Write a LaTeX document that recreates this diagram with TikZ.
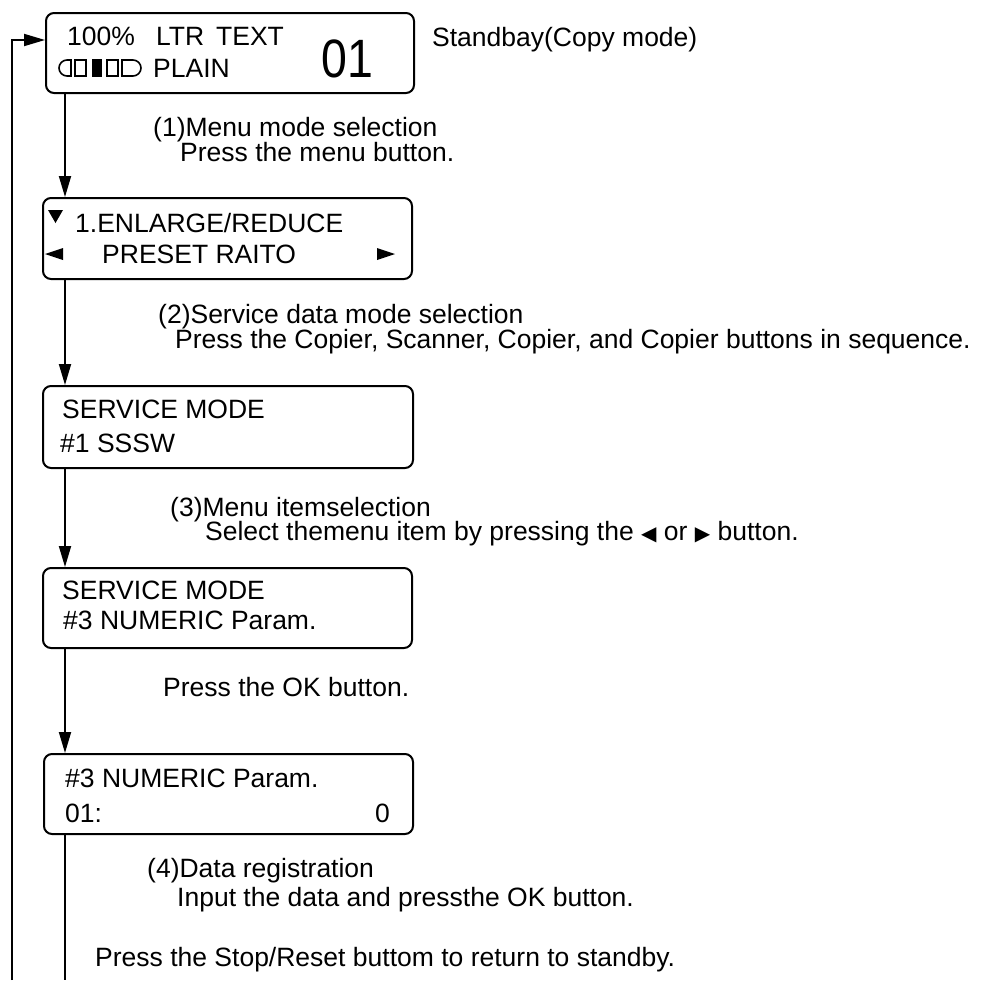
\documentclass[tikz,border=0pt]{standalone}
\usepackage{fontspec}
\setmainfont{Liberation Sans}
\newfontfamily\symfont{DejaVu Sans}
\usetikzlibrary{arrows.meta}
\begin{document}
\begin{tikzpicture}[x=1pt,y=-1pt,
  box/.style={draw, line width=2pt, rounded corners=8pt, inner sep=0pt, anchor=north west},
  lbl/.style={anchor=base west, inner sep=0pt, font=\fontsize{26.5}{30}\selectfont},
  big/.style={anchor=base west, inner sep=0pt, font=\fontsize{54}{60}\selectfont},
  conn/.style={line width=1.8pt},
  arr/.style={conn, -{Triangle[length=21pt,width=12pt]}},
  icon/.style={line width=1.6pt}]
\useasboundingbox (0,0) rectangle (998,980);

% boxes
\node[box, minimum width=368pt, minimum height=80pt] (b1) at (45,12) {};
\node[box, minimum width=369pt, minimum height=81pt] (b2) at (42,197) {};
\node[box, minimum width=370pt, minimum height=82pt] (b3) at (42,385) {};
\node[box, minimum width=369pt, minimum height=80pt] (b4) at (42,567) {};
\node[box, minimum width=369pt, minimum height=80pt] (b5) at (43,753) {};

% box 1 contents
\node[lbl] (t1a) at (67,45) {100\%};
\node[lbl] (t1b) at (156,45) {LTR};
\node[lbl] (t1c) at (216,45) {TEXT};
\node[lbl] (t1d) at (153,77) {PLAIN};
\node[big] (t1e) at (321,77) {\scalebox{0.86}[1]{01}};
\draw[icon] (71,60) -- (67,60) arc[start angle=270, end angle=90, radius=8] -- (71,76) -- cycle;
\draw[icon] (75,60) rectangle (86,76);
\fill (92,59.2) rectangle (102,76.8);
\draw[icon] (107,60) rectangle (118,76);
\draw[icon] (122,60) -- (133,60) arc[start angle=-90, end angle=90, radius=8] -- (122,76) -- cycle;
\node[lbl] (sb) at (432,46) {Standbay(Copy mode)};

% box 2 contents
\fill (48,210) -- (63,210) -- (55.5,223) -- cycle;
\node[lbl] (t2a) at (75,232) {1.ENLARGE/REDUCE};
\fill (45,254) -- (63,248) -- (63,260) -- cycle;
\node[lbl] (t2b) at (102,263) {PRESET RAITO};
\fill (377,248) -- (377,260) -- (395,254) -- cycle;

% box 3 contents
\node[lbl] (t3a) at (62,418) {SERVICE MODE};
\node[lbl] (t3b) at (60,452) {\#1 SSSW};

% box 4 contents
\node[lbl] (t4a) at (62,599) {SERVICE MODE};
\node[lbl] (t4b) at (63,629) {\#3 NUMERIC Param.};

% box 5 contents
\node[lbl] (t5a) at (65,787) {\#3 NUMERIC Param.};
\node[lbl] (t5b) at (65,822) {01:};
\node[lbl, anchor=base east] (t5c) at (390,822) {0};

% step labels
\node[lbl] (s1a) at (153,136) {(1)Menu mode selection};
\node[lbl] (s1b) at (180,161) {Press the menu button.};
\node[lbl] (s2a) at (158,323) {(2)Service data mode selection};
\node[lbl] (s2b) at (175,348) {Press the Copier, Scanner, Copier, and Copier buttons in sequence.};
\node[lbl] (s3a) at (170,516) {(3)Menu itemselection};
\node[lbl] (s3b) at (205,540) {Select themenu item by pressing the {\symfont\fontsize{20}{24}\selectfont ◀} or {\symfont\fontsize{20}{24}\selectfont ▶} button.};
\node[lbl] (sok) at (163,696) {Press the OK button.};
\node[lbl] (s4a) at (147,877) {(4)Data registration};
\node[lbl] (s4b) at (177,906) {Input the data and pressthe OK button.};
\node[lbl] (sst) at (95,966) {Press the Stop/Reset buttom to return to standby.};

% connectors
\coordinate (ax) at (65,0);
\coordinate (axend) at (65,980);
\coordinate (loopend) at (12,980);
\coordinate (loopturn) at (12,40);
\draw[arr] (b1.south -| ax) -- (b2.north -| ax);
\draw[arr] (b2.south -| ax) -- (b3.north -| ax);
\draw[arr] (b3.south -| ax) -- (b4.north -| ax);
\draw[arr] (b4.south -| ax) -- (b5.north -| ax);
\draw[conn] (b5.south -| ax) -- (axend);
\draw[arr] (loopend) -- (loopturn) -- (loopturn -| b1.west);
\end{tikzpicture}
\end{document}
